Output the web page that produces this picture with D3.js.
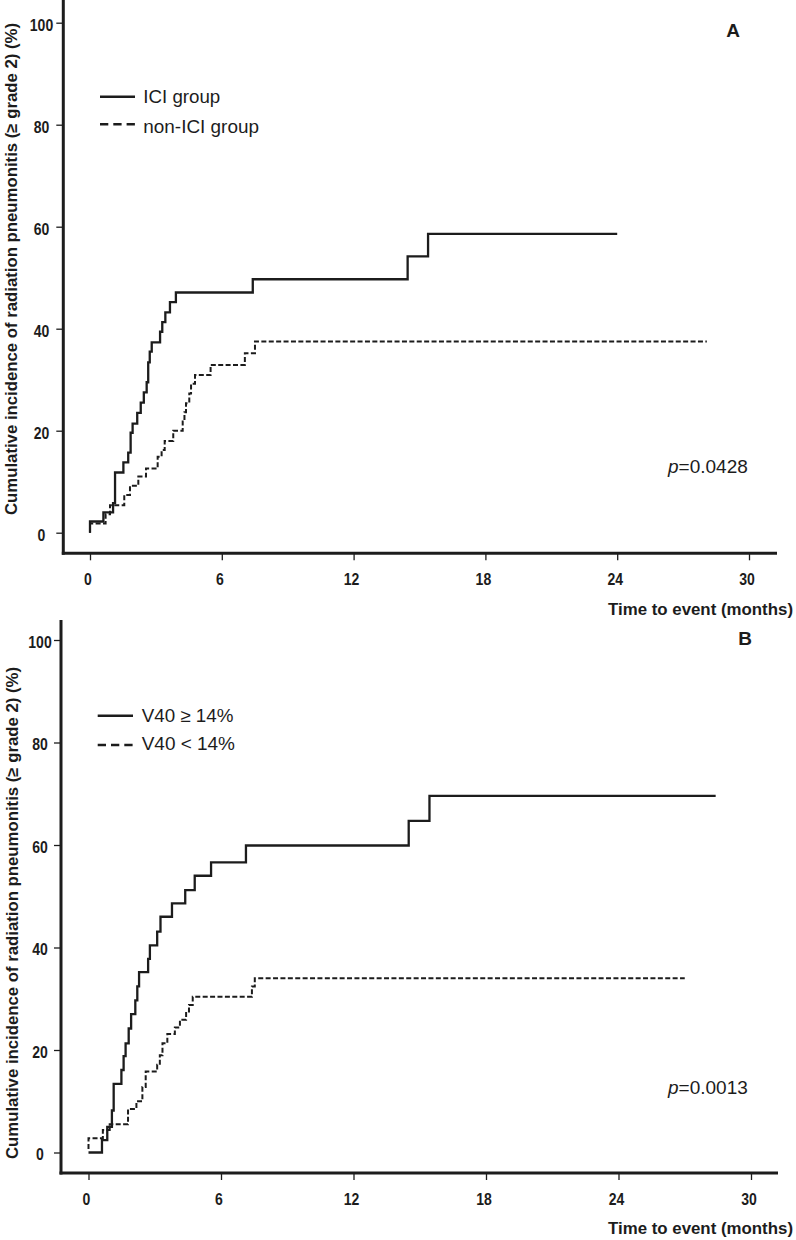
<!DOCTYPE html>
<html>
<head>
<meta charset="utf-8">
<script src="https://cdn.jsdelivr.net/npm/d3@7"></script>
<style>
  html, body { margin: 0; padding: 0; background: #ffffff; }
  svg { display: block; }
</style>
</head>
<body>
<script>
// ---------------- DATA ----------------
const timeTicks = [0, 6, 12, 18, 24, 30];
const pctTicks = [0, 20, 40, 60, 80, 100];

// Panel A
const panelALabel = "A";
const panelALegend = ["ICI group", "non-ICI group"];
const panelAPValue = "0.0428";
const iciTime  = [0, 0.00, 0.61, 1.05, 1.14, 1.52, 1.74, 1.85, 1.94, 2.15, 2.31, 2.45, 2.58, 2.65, 2.72, 2.81, 3.19, 3.29, 3.43, 3.64, 3.91, 7.41, 14.46, 15.39, 24.0];
const iciValue = [0, 2.2,  4.0,  5.8,  11.8, 13.8, 15.7, 19.6, 21.4, 23.5, 25.5, 27.5, 29.5, 33.4, 35.5, 37.3, 39.4, 41.3, 43.2, 45.2, 47.1, 49.7, 54.2,  58.6,  58.6];
const nonIciTime  = [0, 0.00, 0.71, 0.91, 1.56, 1.82, 2.20, 2.55, 3.08, 3.26, 3.40, 3.79, 4.22, 4.30, 4.37, 4.52, 4.60, 4.78, 5.49, 7.05, 7.51, 28.08];
const nonIciValue = [0, 1.8,  3.6,  5.4,  7.4,  9.2,  11.0, 12.6, 14.9, 16.2, 18.0, 20.0, 21.8, 23.6, 25.4, 27.3, 29.2, 30.9, 32.9, 35.2, 37.5, 37.5];

// Panel B
const panelBLabel = "B";
const panelBLegend = ["V40 \u2265 14%", "V40 < 14%"];
const panelBPValue = "0.0013";
const v40HighTime  = [0, 0.61, 0.85, 1.06, 1.14, 1.49, 1.59, 1.68, 1.82, 1.93, 2.12, 2.21, 2.29, 2.70, 2.78, 3.11, 3.26, 3.78, 4.38, 4.81, 5.55, 7.13, 14.50, 15.44, 28.4];
const v40HighValue = [0, 2.4,  5.0,  8.2,  13.4, 16.1, 18.8, 21.3, 24.2, 27.0, 29.7, 32.4, 35.2, 37.8, 40.4, 43.1, 46.0, 48.6, 51.2, 54.0, 56.6, 59.9, 64.7,  69.6,  69.6];
const v40LowTime  = [0,   0.00, 0.65, 0.96, 1.79, 2.17, 2.44, 2.59, 3.11, 3.23, 3.35, 3.57, 3.91, 4.14, 4.42, 4.55, 4.72, 7.40, 7.53, 27.0];
const v40LowValue = [0.7, 2.8,  4.4,  5.5,  8.5,  10.0, 12.8, 15.8, 17.1, 19.0, 21.3, 23.1, 24.4, 25.9, 27.5, 28.8, 30.4, 32.4, 34.0, 34.0];

const yTitle = "Cumulative incidence of radiation pneumonitis (\u2265 grade 2) (%)";
const xTitle = "Time to event (months)";

// ---------------- DRAW ----------------
const W = 796, H = 1240;
const INK = "#1c1c1c";
const FONT = "'Liberation Sans', Arial, Helvetica, sans-serif";

const svg = d3.select("body").append("svg")
  .attr("width", W).attr("height", H)
  .style("background", "#fff");

function zip(t, v) { return t.map((d, i) => ({ t: d, v: v[i] })); }

function drawPanel(cfg) {
  const g = svg.append("g");
  const x = d3.scaleLinear().domain([0, 30]).range(cfg.xRange);
  const y = d3.scaleLinear().domain([0, 100]).range(cfg.yRange);

  // x ticks
  const xa = g.append("g")
    .attr("transform", `translate(0,${cfg.xAxisY})`)
    .call(d3.axisBottom(x).tickValues(timeTicks).tickSize(7).tickSizeOuter(0));
  xa.select(".domain").remove();
  xa.selectAll(".tick line").attr("stroke", INK).attr("stroke-width", 1.3);
  xa.selectAll(".tick text")
    .attr("y", 32).attr("dy", null)
    .attr("x", -2.5 / 0.85)
    .attr("transform", "scale(0.85,1)")
    .attr("fill", INK)
    .style("font-family", FONT).style("font-weight", "bold").style("font-size", "16.5px");

  // y ticks
  const ya = g.append("g")
    .attr("transform", `translate(${cfg.yAxisX},0)`)
    .call(d3.axisLeft(y).tickValues(pctTicks).tickSize(7).tickSizeOuter(0));
  ya.select(".domain").remove();
  ya.selectAll(".tick line").attr("stroke", INK).attr("stroke-width", 1.3);
  ya.selectAll(".tick text")
    .attr("x", (cfg.yLabelX - cfg.yAxisX) / 0.85)
    .attr("dy", "0.45em")
    .attr("text-anchor", "middle")
    .attr("transform", "scale(0.85,1)")
    .attr("fill", INK)
    .style("font-family", FONT).style("font-weight", "bold").style("font-size", "16.5px");

  // axis lines
  g.append("line")
    .attr("x1", cfg.yAxisX).attr("x2", cfg.yAxisX)
    .attr("y1", cfg.yAxisTop).attr("y2", cfg.xAxisY + 1.5)
    .attr("stroke", INK).attr("stroke-width", 3);
  g.append("line")
    .attr("x1", cfg.yAxisX - 1.5).attr("x2", cfg.xAxisEnd)
    .attr("y1", cfg.xAxisY).attr("y2", cfg.xAxisY)
    .attr("stroke", INK).attr("stroke-width", 3);

  // curves
  const line = d3.line().x(d => x(d.t)).y(d => y(d.v)).curve(d3.curveStepAfter);
  g.append("path").datum(zip(cfg.dashT, cfg.dashV))
    .attr("d", line).attr("fill", "none")
    .attr("stroke", INK).attr("stroke-width", 2)
    .attr("stroke-dasharray", "5,2.4");
  g.append("path").datum(zip(cfg.solidT, cfg.solidV))
    .attr("d", line).attr("fill", "none")
    .attr("stroke", INK).attr("stroke-width", 2.3);

  // legend
  const L = cfg.legend;
  g.append("line").attr("x1", L.x1).attr("x2", L.x2).attr("y1", L.y1).attr("y2", L.y1)
    .attr("stroke", INK).attr("stroke-width", 2.4);
  g.append("line").attr("x1", L.x1).attr("x2", L.x2 + 1.5).attr("y1", L.y2).attr("y2", L.y2)
    .attr("stroke", INK).attr("stroke-width", 2.4).attr("stroke-dasharray", "8.3,5");
  g.append("text").attr("x", L.tx).attr("y", L.b1).text(cfg.legendText[0])
    .attr("textLength", L.w1).attr("lengthAdjust", "spacingAndGlyphs")
    .attr("fill", INK).style("font-family", FONT).style("font-size", "18.5px");
  g.append("text").attr("x", L.tx).attr("y", L.b2).text(cfg.legendText[1])
    .attr("textLength", L.w2).attr("lengthAdjust", "spacingAndGlyphs")
    .attr("fill", INK).style("font-family", FONT).style("font-size", "18.5px");

  // panel letter
  g.append("text").attr("x", cfg.letter.x).attr("y", cfg.letter.y).text(cfg.letterText)
    .attr("text-anchor", "middle").attr("fill", INK)
    .style("font-family", FONT).style("font-weight", "bold").style("font-size", "19px");

  // p value
  const p = g.append("text").attr("x", cfg.pPos.x).attr("y", cfg.pPos.y)
    .attr("fill", INK).style("font-family", FONT).style("font-size", "19px");
  p.append("tspan").style("font-style", "italic").text("p");
  p.append("tspan").text("=" + cfg.pText);

  // y title
  g.append("text")
    .attr("transform", `translate(${cfg.yTitle.x},${cfg.yTitle.y}) rotate(-90)`)
    .attr("text-anchor", "middle")
    .attr("textLength", 492).attr("lengthAdjust", "spacingAndGlyphs")
    .attr("fill", INK)
    .style("font-family", FONT).style("font-weight", "bold").style("font-size", "16.3px")
    .text(yTitle);

  // x title
  g.append("text")
    .attr("x", 793).attr("y", cfg.xTitleY)
    .attr("text-anchor", "end")
    .attr("textLength", 185).attr("lengthAdjust", "spacingAndGlyphs")
    .attr("fill", INK)
    .style("font-family", FONT).style("font-weight", "bold").style("font-size", "16.3px")
    .text(xTitle);
}

drawPanel({
  xRange: [90, 749], yRange: [532.7, 22.7],
  yAxisX: 63.3, yAxisTop: 0, xAxisY: 553.3, xAxisEnd: 777, yLabelX: 41.5,
  solidT: iciTime, solidV: iciValue, dashT: nonIciTime, dashV: nonIciValue,
  legend: { x1: 100, x2: 135, y1: 96.7, y2: 124.3, tx: 143.3, b1: 103.3, b2: 133.3, w1: 77, w2: 115.7 },
  legendText: panelALegend,
  letterText: panelALabel, letter: { x: 733, y: 37 },
  pText: panelAPValue, pPos: { x: 668, y: 473 },
  yTitle: { x: 17, y: 269 }, xTitleY: 614.5
});

drawPanel({
  xRange: [88.5, 751], yRange: [1152.5, 640],
  yAxisX: 61, yAxisTop: 620, xAxisY: 1173, xAxisEnd: 778, yLabelX: 40,
  solidT: v40HighTime, solidV: v40HighValue, dashT: v40LowTime, dashV: v40LowValue,
  legend: { x1: 97.7, x2: 133, y1: 715.7, y2: 745, tx: 141.7, b1: 721.7, b2: 750, w1: 91.7, w2: 93.3 },
  legendText: panelBLegend,
  letterText: panelBLabel, letter: { x: 745, y: 645 },
  pText: panelBPValue, pPos: { x: 668, y: 1094 },
  yTitle: { x: 17.5, y: 913 }, xTitleY: 1234
});
</script>
</body>
</html>
